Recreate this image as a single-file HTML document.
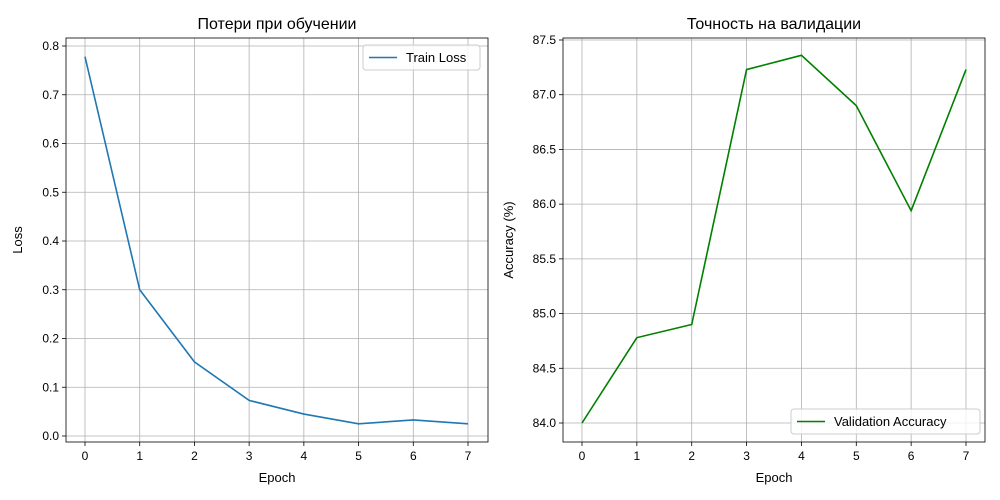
<!DOCTYPE html>
<html><head><meta charset="utf-8"><style>
body{margin:0;background:#fff;}
svg{display:block;font-family:"Liberation Sans","DejaVu Sans",sans-serif;}
</style></head><body>
<svg id="chart" width="1000" height="500"></svg>
<script>
const epochs=[0,1,2,3,4,5,6,7];
const trainLoss=[0.778,0.300,0.152,0.073,0.045,0.025,0.033,0.025];
const valAcc=[84.0,84.78,84.90,87.23,87.36,86.90,85.94,87.23];
const lossTicks=["0.0","0.1","0.2","0.3","0.4","0.5","0.6","0.7","0.8"];
const accTicks=["84.0","84.5","85.0","85.5","86.0","86.5","87.0","87.5"];
const xTicks=["0","1","2","3","4","5","6","7"];
const NS="http://www.w3.org/2000/svg";
const svg=document.getElementById('chart');
function el(tag,attrs,parent){const e=document.createElementNS(NS,tag);for(const k in attrs)e.setAttribute(k,attrs[k]);(parent||svg).appendChild(e);return e;}
function panel(o){
  const g=el('g',{});
  
  
  const xs=v=>o.x0px+(v-0)*(o.x7px-o.x0px)/7;
  const ys=v=>o.yApx+(v-o.yA)*(o.yBpx-o.yApx)/(o.yB-o.yA);
  xTicks.forEach(t=>{const x=xs(+t);
    el('line',{x1:x,x2:x,y1:o.top,y2:o.bottom,stroke:'#b0b0b0','stroke-width':0.8},g);
    el('line',{x1:x,x2:x,y1:o.bottom,y2:o.bottom+4,stroke:'#000','stroke-width':0.8},g);
    const tx=el('text',{x:x,y:o.bottom+18,'font-size':12,'text-anchor':'middle'},g);tx.textContent=t;
    });
  o.yTicks.forEach(t=>{const y=ys(+t);
    el('line',{x1:o.left,x2:o.right,y1:y,y2:y,stroke:'#b0b0b0','stroke-width':0.8},g);
    el('line',{x1:o.left-4,x2:o.left,y1:y,y2:y,stroke:'#000','stroke-width':0.8},g);
    const tx=el('text',{x:o.left-7,y:y+4,'font-size':12,'text-anchor':'end'},g);tx.textContent=t;
    });
  const pts=epochs.map((e,i)=>xs(e)+','+ys(o.data[i])).join(' ');
  const pl=el('polyline',{points:pts,fill:'none',stroke:o.color,'stroke-width':1.6},g);
  
  el('rect',{x:o.left,y:o.top,width:o.right-o.left,height:o.bottom-o.top,fill:'none',stroke:'#000','stroke-width':0.8},g);
  const ti=el('text',{x:(o.left+o.right)/2,y:29,'font-size':16,'text-anchor':'middle'},g);ti.textContent=o.title;
  
  const xl=el('text',{x:(o.left+o.right)/2,y:482,'font-size':13,'text-anchor':'middle'},g);xl.textContent='Epoch';
  
  const yx=o.left-(o.ylOff),yy=(o.top+o.bottom)/2;
  const yl=el('text',{x:yx,y:yy,'font-size':13,'text-anchor':'middle',transform:`rotate(-90 ${yx} ${yy})`},g);yl.textContent=o.ylabel;
  
  const lg=el('g',{},g);
  
  el('rect',{x:o.lg[0],y:o.lg[1],width:o.lg[2],height:25,rx:3,fill:'#fff','fill-opacity':0.8,stroke:'#ccc'},lg);
  el('line',{x1:o.lg[0]+6,x2:o.lg[0]+34,y1:o.lg[1]+12.5,y2:o.lg[1]+12.5,stroke:o.color,'stroke-width':1.6},lg);
  const lt=el('text',{x:o.lg[0]+43,y:o.lg[1]+17,'font-size':13},lg);lt.textContent=o.legend;
}
panel({name:'loss-panel',left:66,right:488,top:38,bottom:442,x0px:85,x7px:468,yA:0,yApx:436,yB:0.8,yBpx:46,
 yTicks:lossTicks,data:trainLoss,color:'#1f77b4',seriesName:'train-loss-line',title:'Потери при обучении',ylabel:'Loss',ylOff:44,
 lg:[363,45,117],legend:'Train Loss'});
panel({name:'accuracy-panel',left:563,right:985,top:38,bottom:442,x0px:582,x7px:966,yA:84,yApx:423,yB:87.5,yBpx:40,
 yTicks:accTicks,data:valAcc,color:'#008000',seriesName:'validation-accuracy-line',title:'Точность на валидации',ylabel:'Accuracy (%)',ylOff:50,
 lg:[791,409,189],legend:'Validation Accuracy'});
</script>
</body></html>
